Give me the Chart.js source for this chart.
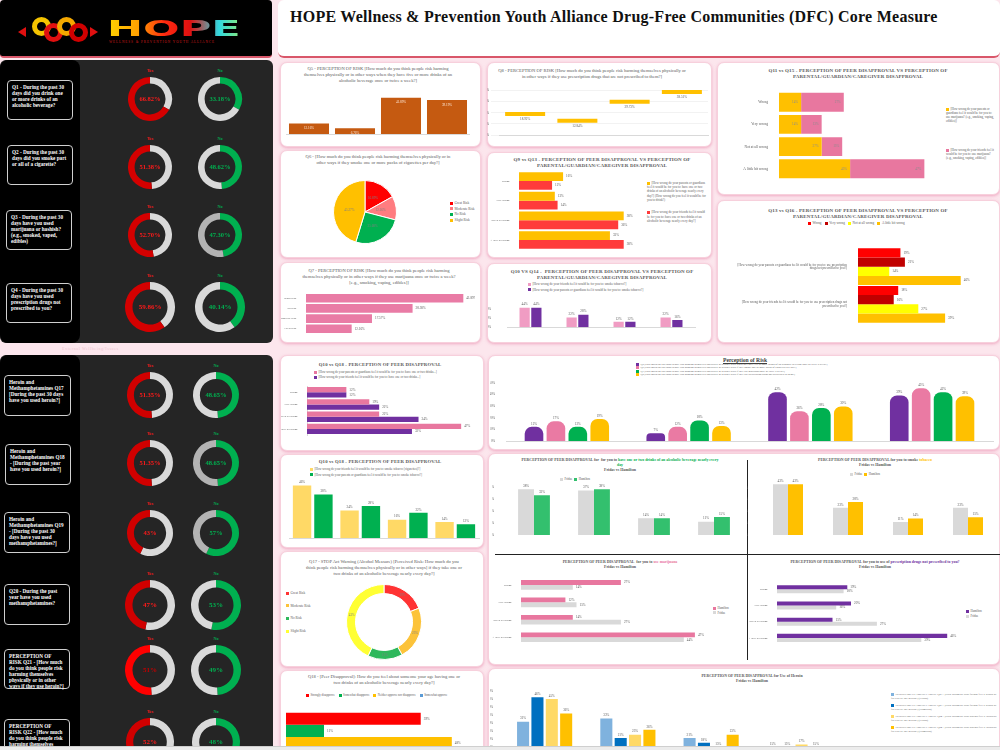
<!DOCTYPE html>
<html><head><meta charset="utf-8">
<script src="https://cdn.jsdelivr.net/npm/chart.js@4.4.1/dist/chart.umd.min.js"></script>
<style>
html,body{margin:0;padding:0;}
body{width:1000px;height:750px;overflow:hidden;background:#fce6ed;font-family:'Liberation Serif',serif;}
#page{position:relative;width:1000px;height:750px;overflow:hidden;}
.card{position:absolute;background:#fff;border-radius:7px;box-shadow:0 1px 3px rgba(230,120,160,0.55);border:1px solid #f7d0dc;box-sizing:border-box;}
.qb{position:absolute;border:1.5px solid #d0d0d0;border-radius:4px;color:#fff;font-weight:bold;font-size:5.2px;line-height:6.1px;padding:3px 4px;box-sizing:border-box;background:#000;}
.sw{display:inline-block;width:3px;height:3px;margin-right:1.5px;vertical-align:middle;}
</style></head><body><div id="page"></div>
<script>
// ================= DATA =================
const riskCats = ['Great Risk','Moderate Risk','No Risk','Slight Risk'];
const wrongCats = ['A little bit wrong','Not at all wrong','Very wrong','Wrong'];
const q5Alcohol = [12.16, 6.76, 41.89, 39.19];
const q6Cigarettes = [16.89, 12.16, 25.68, 45.27];
const q7Marijuana = [12.16, 17.57, 28.38, 41.89];
const q8Prescription = [18.92, 12.84, 29.73, 38.51];
const q9Parents = [33, 38, 13, 16];
const q13Friends = [38, 36, 14, 12];
const q10Friends = [44, 22, 12, 22];
const q14Parents = [44, 28, 12, 16];
const q11Parents = [45, 27, 14, 14];
const q15Friends = [47, 13, 13, 27];
const q16Groups = ['[How wrong do your parents or guardians feel it would be for you to: use prescription drugs not prescribed to you?]','[How wrong do your friends feel it would be for you to: use prescription drugs not prescribed to you?]'];
const q16Wrong = [19, 18];
const q16VeryWrong = [21, 16];
const q16NotAtAll = [14, 27];
const q16ALittle = [46, 39];
const q10Alcohol = [47, 22, 19, 12];
const q18Alcohol = [32, 34, 22, 12];
const q10Tobacco = [46, 24, 16, 14];
const q18Tobacco = [38, 28, 22, 12];
const q17Values = [19, 23, 15, 43];
const q18Cats = ['Strongly disapprove','Somewhat disapprove','Neither approve nor disapprove','Somewhat approve'];
const q18Values = [39, 11, 48, 2];
const alcFridas = [38, 37, 14, 11], alcHamilton = [33, 38, 14, 15];
const tobFridas = [43, 23, 11, 23], tobHamilton = [43, 28, 14, 15];
const marHamilton = [47, 14, 12, 27], marFridas = [44, 27, 15, 14];
const rxHamilton = [46, 15, 20, 19], rxFridas = [39, 27, 16, 18];
const heroinFriendsF = [31, 33, 21, 15], heroinFriendsH = [46, 21, 18, 15];
const heroinParentsF = [45, 23, 15, 17], heroinParentsH = [36, 26, 23, 15];
const useYes = [66.82, 51.38, 52.70, 59.86];
const useNo = [33.18, 48.62, 47.30, 40.14];
const hmYes = [51.35, 51.35, 43, 47, 51, 52];
const hmNo = [48.65, 48.65, 57, 53, 49, 48];
const useQuestions = [
 'Q1 - During the past 30 days did you drink one or more drinks of an alcoholic beverage?',
 'Q2 - During the past 30 days did you smoke part or all of a cigarette?',
 'Q3 - During the past 30 days have you used marijuana or hashish? (e.g., smoked, vaped, edibles)',
 'Q4 - During the past 30 days have you used prescription drugs not prescribed to you?'];
const hmQuestions = [
 'Heroin and Methamphetamines Q17 [During the past 30 days have you used heroin?]',
 'Heroin and Methamphetamines Q18 - [During the past year have you used heroin?]',
 'Heroin and Methamphetamines Q19 - [During the past 30 days have you used methamphetamines?]',
 'Q20 - During the past year have you used methamphetamines?',
 'PERCEPTION OF RISK Q21 - [How much do you think people risk harming themselves physically or in other ways if they use heroin?]',
 'PERCEPTION OF RISK Q22 - [How much do you think people risk harming themselves physically or in other ways if they use methamphetamines?]'];

// ================= SETUP =================
const page = document.getElementById('page');
Chart.defaults.font.family = "'Liberation Serif', serif";
Chart.defaults.font.size = 3.6;
Chart.defaults.color = '#595959';
Chart.defaults.animation = false;
Chart.defaults.responsive = false;
Chart.defaults.devicePixelRatio = 1;
Chart.defaults.layout.autoPadding = false;
Chart.defaults.plugins.legend.display = false;
Chart.defaults.plugins.tooltip.enabled = false;

const pct2 = v => v.toFixed(2) + '%';
const pct0 = v => Math.round(v) + '%';

Chart.register({
  id: 'vl',
  afterDatasetsDraw(chart, a, o) {
    if (!o || !o.on) return;
    const ctx = chart.ctx; ctx.save();
    ctx.font = `${o.size || 3.6}px 'Liberation Serif', serif`;
    chart.data.datasets.forEach((ds, di) => {
      const meta = chart.getDatasetMeta(di);
      meta.data.forEach((el, i) => {
        const v = ds.data[i]; if (v == null) return;
        const t = (o.fmt || pct0)(v);
        ctx.fillStyle = o.color || '#595959';
        let x = el.x, y = el.y;
        switch (o.mode) {
          case 'top': ctx.textAlign='center'; ctx.textBaseline='bottom'; y -= 1.5; break;
          case 'insideTop': ctx.textAlign='center'; ctx.textBaseline='top'; y += 3; break;
          case 'right': ctx.textAlign='left'; ctx.textBaseline='middle'; x += 3; break;
          case 'insideEnd': ctx.textAlign='right'; ctx.textBaseline='middle'; x -= 3; break;
          case 'arc': { const p = el.tooltipPosition(); x = p.x; y = p.y; ctx.textAlign='center'; ctx.textBaseline='middle'; break; }
          case 'below': ctx.textAlign='center'; ctx.textBaseline='top'; y += 3.5; break;
        }
        ctx.fillText(t, x, y);
      });
    });
    ctx.restore();
  }
});
Chart.register({
  id: 'ct',
  afterDraw(chart, a, o) {
    if (!o || !o.text) return;
    const {ctx, chartArea: ca} = chart;
    ctx.save();
    ctx.font = `bold ${o.size}px 'Liberation Serif', serif`;
    ctx.fillStyle = o.color; ctx.textAlign = 'center'; ctx.textBaseline = 'middle';
    ctx.fillText(o.text, (ca.left + ca.right) / 2, (ca.top + ca.bottom) / 2 + 0.5);
    ctx.restore();
  }
});

function mk(l, t, w, h, cfg) {
  const c = document.createElement('canvas');
  c.width = w; c.height = h;
  c.style.cssText = `position:absolute;left:${l}px;top:${t}px;width:${w}px;height:${h}px;`;
  page.appendChild(c);
  return new Chart(c, cfg);
}
function D(l, t, w, h, css, html) {
  const d = document.createElement('div');
  d.style.cssText = `position:absolute;left:${l}px;top:${t}px;` + (w ? `width:${w}px;` : '') + (h ? `height:${h}px;` : '') + (css || '');
  if (html) d.innerHTML = html;
  page.appendChild(d); return d;
}
function card(l, t, w, h) { const d = D(l, t, w, h); d.className = 'card'; return d; }
function title(l, t, w, txt, size, bold, extra) {
  return D(l, t, w, 0, `text-align:center;color:#595959;font-size:${size}px;line-height:${size*1.25}px;${bold?'font-weight:bold;letter-spacing:0.15px;':''}${extra||''}`, txt);
}
function sw(c) { return `<span class="sw" style="background:${c}"></span>`; }
function wrap(s, n) { const w = s.split(' '), out = []; let cur = ''; for (const x of w) { if ((cur + ' ' + x).trim().length > n) { out.push(cur.trim()); cur = x; } else cur += ' ' + x; } if (cur.trim()) out.push(cur.trim()); return out; }
const noGrid = {display:false};
const fixW = w => s => { s.width = w; };
const fixH = h => s => { s.height = h; };
const pctTick = v => v + '%';
const smallTicks = {padding: 1.5, font: {size: 2.8}};

// ================= HEADER =================
D(0, 0, 272, 58, 'background:#000;border-radius:4px;border-bottom:2px solid #d9576a;box-sizing:border-box;');
D(18, 27, 10, 0, 'border-top:5px solid transparent;border-bottom:5px solid transparent;border-right:8px solid #e01010;width:0;height:0;');
D(32, 17, 19, 19, 'border:5px solid #f5c400;border-radius:50%;box-sizing:border-box;');
D(44, 23, 19, 19, 'border:5px solid #e01010;border-radius:50%;box-sizing:border-box;');
D(57, 17, 19, 19, 'border:5px solid #f5a800;border-radius:50%;box-sizing:border-box;');
D(69, 23, 19, 19, 'border:5px solid #d00000;border-radius:50%;box-sizing:border-box;');
D(90, 27, 0, 0, 'border-top:5px solid transparent;border-bottom:5px solid transparent;border-left:8px solid #e01010;width:0;height:0;');
D(107, 17, 70, 24, "font-family:'DejaVu Sans',sans-serif;font-weight:bold;font-size:21px;line-height:24px;transform:scaleX(2.05);transform-origin:left top;background:linear-gradient(90deg,#ffd400 0%,#ffa000 22%,#ff2a10 40%,#e01010 58%,#30d8e0 78%,#b0f050 100%);-webkit-background-clip:text;background-clip:text;color:transparent;", 'HOPE');
D(109, 40, 145, 0, 'font-size:3.4px;letter-spacing:0.9px;color:#d01818;white-space:nowrap;', 'WELLNESS &amp; PREVENTION YOUTH ALLIANCE');
D(278, 0, 722, 58, 'background:#fff;border-radius:6px;border-bottom:2px solid #d9576a;box-sizing:border-box;');
D(290, 8, 700, 0, "font-weight:bold;font-size:16px;letter-spacing:0.25px;color:#111;white-space:nowrap;", 'HOPE Wellness &amp; Prevention Youth Alliance Drug-Free Communities (DFC) Core Measure');

// ================= LEFT PANELS =================
function panel(top, h) {
  D(0, top, 273, h, 'background:#252525;border-radius:6px;');
  D(0, top, 80, h, 'background:#000;border-radius:8px;');
}
panel(60, 283);
panel(355, 420);
D(62, 346, 80, 0, 'font-size:4px;color:#eec3cf;letter-spacing:0.6px;white-space:nowrap;', 'External Wellbeing/Issues');

function donut(cx, cy, r, first, second, c1, c2, text, tcolor, topLabel, lcolor) {
  mk(cx - r - 1, cy - r - 1, 2 * r + 2, 2 * r + 2, {
    type: 'doughnut',
    data: {labels: ['a','b'], datasets: [{data: [first, second], backgroundColor: [c1, c2], borderWidth: 0}]},
    options: {cutout: '70%', layout: {padding: 1}, plugins: {ct: {text: text, color: tcolor, size: r > 23 ? 7 : 6.5}}}
  });
  D(cx - 15, cy - r - 9, 30, 0, `text-align:center;font-size:4.2px;font-weight:bold;color:${lcolor};`, topLabel);
}
const fmtD = v => Number.isInteger(v) ? v + '%' : v.toFixed(2) + '%';
const useRows = [{y:99, r:22, box:[7,80,66,40]}, {y:167, r:22, box:[7,145,66,40]}, {y:235, r:22, box:[6,210,66,40]}, {y:307, r:25, box:[6,283,66,40]}];
useRows.forEach((row, i) => {
  const b = row.box;
  D(b[0], b[1], b[2], b[3], '', useQuestions[i]).className = 'qb';
  donut(150, row.y, row.r, useNo[i], useYes[i], '#d9d9d9', '#d40000', fmtD(useYes[i]), '#ff1a1a', 'Yes', '#ff1a1a');
  donut(220, row.y, row.r, useNo[i], useYes[i], '#00b050', i === 2 ? '#b3b3b3' : '#d9d9d9', fmtD(useNo[i]), '#00b050', 'No', '#00b050');
});
const hmRows = [{y:395, r:23, box:[4,375,67,41]}, {y:463, r:23, box:[5,444,66,41]}, {y:533, r:23, box:[4,512,66,41]}, {y:605, r:25, box:[4,584,66,41]}, {y:670, r:25, box:[4,649,66,40]}, {y:742, r:24, box:[4,719,66,45]}];
hmRows.forEach((row, i) => {
  const b = row.box;
  D(b[0], b[1], b[2], b[3], '', hmQuestions[i]).className = 'qb';
  donut(150, row.y, row.r, hmNo[i], hmYes[i], '#d9d9d9', i === 4 ? '#ff0000' : '#d00000', fmtD(hmYes[i]), i === 4 ? '#c00000' : '#ff1a1a', 'Yes', '#ff1a1a');
  donut(216, row.y, row.r, hmNo[i], hmYes[i], '#00b050', (i === 1 || i === 2) ? '#b3b3b3' : '#d9d9d9', fmtD(hmNo[i]), '#00b050', 'No', '#00b050');
});

// ================= CARDS =================
card(280, 62, 201, 85);
card(280, 150, 201, 108);
card(280, 262, 201, 81);
card(487, 62, 225, 85);
card(487, 152, 225, 106);
card(487, 263, 225, 80);
card(717, 62, 283, 133);
card(717, 200, 283, 143);
card(280, 355, 204, 96);
card(280, 454, 204, 94);
card(280, 551, 204, 116);
card(280, 670, 204, 100);
card(488, 355, 512, 95);
card(488, 453, 512, 212);
card(488, 668, 512, 100);

// ---- Q5 ----
title(298, 66, 160, 'Q5 - PERCEPTION OF RISK [How much do you think people risk harming themselves physically or in other ways when they have five or more drinks of an alcoholic beverage once or twice a week?]', 4.6);
mk(286, 95, 184, 47, {type: 'bar',
  data: {labels: riskCats, datasets: [{data: q5Alcohol, backgroundColor: '#c55a11', categoryPercentage: 0.87, barPercentage: 1}]},
  options: {scales: {x: {grid: noGrid, border: {color: '#d9d9d9'}, ticks: {padding: 2}, afterFit: fixH(8)}, y: {display: false, min: 0, max: 45}},
    plugins: {vl: {on: true, mode: 'insideTop', color: '#fde9d9', size: 3.3, fmt: pct2}}}});

// ---- Q6 ----
title(302, 154, 152, 'Q6 - [How much do you think people risk harming themselves physically or in other ways if they smoke one or more packs of cigarettes per day?]', 4.6);
mk(331, 178, 68, 68, {type: 'pie',
  data: {labels: riskCats, datasets: [{data: q6Cigarettes, backgroundColor: ['#ff0000','#ff7c80','#00b050','#ffc000'], borderColor: '#fff', borderWidth: 1}]},
  options: {layout: {padding: 2}, plugins: {vl: {on: true, mode: 'arc', color: '#7f7f7f', size: 3.3, fmt: pct2}}}});
D(450, 201, 30, 0, 'font-size:3.4px;line-height:5.6px;color:#595959;white-space:nowrap;',
  riskCats.map((c, i) => sw(['#ff0000','#ff7c80','#00b050','#ffc000'][i]) + c).join('<br>'));

// ---- Q7 ----
title(298, 268, 162, 'Q7 - PERCEPTION OF RISK [How much do you think people risk harming themselves physically or in other ways if they use marijuana once or twice a week? [e.g., smoking, vaping, edibles]]', 4.6);
mk(281, 290, 194, 47, {type: 'bar',
  data: {labels: riskCats, datasets: [{data: q7Marijuana, backgroundColor: '#e97ba5', categoryPercentage: 1, barPercentage: 0.85}]},
  options: {indexAxis: 'y', scales: {x: {display: false, min: 0, max: 45}, y: {reverse: true, grid: noGrid, border: {display: false}, ticks: smallTicks, afterFit: fixW(25)}},
    plugins: {vl: {on: true, mode: 'right', fmt: pct2, size: 3.3}}}});

// ---- Q8 ----
title(497, 68, 190, 'Q8 - PERCEPTION OF RISK [How much do you think people risk harming themselves physically or in other ways if they use prescription drugs that are not prescribed to them?]', 4.6);
mk(487, 81, 223, 63, {type: 'line',
  data: {labels: riskCats, datasets: [{data: q8Prescription, showLine: false, pointStyle: 'line', pointRadius: 20, pointBorderWidth: 4, borderColor: '#ffc000', backgroundColor: '#ffc000'}]},
  options: {layout: {padding: {top: 2, right: 2}}, clip: false, scales: {x: {offset: true, grid: noGrid, border: {color: '#d9d9d9'}, ticks: {padding: 3}, afterFit: fixH(9)},
    y: {min: 0, max: 45, ticks: {stepSize: 5, callback: pctTick, padding: 2, font: {size: 3.1}}, grid: {color: '#f2f2f2'}, border: {display: false}, afterFit: fixW(12)}},
    plugins: {vl: {on: true, mode: 'below', fmt: pct2, size: 3.3}}}});

// ---- Q9 vs Q13 ----
title(507, 157, 190, 'Q9 vs Q13 - PERCEPTION OF PEER DISAPPROVAL VS PERCEPTION OF PARENTAL/GUARDIAN/CAREGIVER DISAPPROVAL', 5, true);
mk(489, 168, 154, 85, {type: 'bar',
  data: {labels: wrongCats, datasets: [{data: q9Parents, backgroundColor: '#ffc000'}, {data: q13Friends, backgroundColor: '#ff3b3b'}]},
  options: {indexAxis: 'y', datasets: {bar: {categoryPercentage: 0.9, barPercentage: 1}},
    scales: {x: {display: false, min: 0, max: 45}, y: {reverse: true, grid: noGrid, border: {display: false}, ticks: smallTicks, afterFit: fixW(30)}},
    plugins: {vl: {on: true, mode: 'right', size: 3.3}}}});
D(647, 181, 60, 0, 'font-size:3.2px;line-height:4.2px;color:#595959;',
  sw('#ffc000') + '[How wrong do your parents or guardians feel it would be for you to: have one or two drinks of an alcoholic beverage nearly every day?] (How wrong do you feel it would be for you to drink?)<br><br><br>' +
  sw('#ff3b3b') + '[How wrong do your friends feel it would be for you to: have one or two drinks of an alcoholic beverage nearly every day?]');

// ---- Q10 vs Q14 ----
title(507, 269, 190, 'Q10 VS Q14 -&nbsp; PERCEPTION OF PEER DISAPPROVAL VS PERCEPTION OF PARENTAL/GUARDIAN/CAREGIVER DISAPPROVAL', 5, true);
D(528, 282, 150, 0, 'font-size:3.2px;line-height:5.5px;color:#595959;white-space:nowrap;',
  sw('#f09cc3') + '[How wrong do your friends feel it would be for you to: smoke tobacco?]<br>' + sw('#7030a0') + '[How wrong do your parents or guardians feel it would be for you to: smoke tobacco?]');
mk(488, 293, 210, 44, {type: 'bar',
  data: {labels: wrongCats, datasets: [{data: q10Friends, backgroundColor: '#f09cc3'}, {data: q14Parents, backgroundColor: '#7030a0'}]},
  options: {layout: {padding: {top: 2, right: 3}}, datasets: {bar: {categoryPercentage: 0.5, barPercentage: 0.87}},
    scales: {x: {grid: noGrid, border: {color: '#d9d9d9'}, ticks: {padding: 2}, afterFit: fixH(8)},
      y: {min: 0, max: 55, grid: noGrid, border: {display: false}, ticks: {stepSize: 10, padding: 8, font: {size: 3.1}, callback: v => v % 10 === 0 ? v + '%' : ''}, afterFit: fixW(19)}},
    plugins: {vl: {on: true, mode: 'top', size: 3.3}}}});

// ---- Q11 vs Q15 ----
title(768, 68, 180, 'Q11 vs Q15 - PERCEPTION OF PEER DISAPPROVAL VS PERCEPTION OF PARENTAL/GUARDIAN/CAREGIVER DISAPPROVAL', 5, true);
mk(722, 86, 215, 99, {type: 'bar',
  data: {labels: wrongCats, datasets: [{data: q11Parents, backgroundColor: '#ffc000'}, {data: q15Friends, backgroundColor: '#e8779f'}]},
  options: {indexAxis: 'y', datasets: {bar: {categoryPercentage: 1, barPercentage: 0.85}},
    scales: {x: {display: false, stacked: true, min: 0, max: 100}, y: {stacked: true, reverse: true, grid: noGrid, border: {display: false}, ticks: {padding: 3}, afterFit: fixW(57)}},
    plugins: {vl: {on: true, mode: 'insideEnd', size: 3.3, color: '#8c8c8c'}}}});
D(946, 107, 50, 0, 'font-size:3.1px;line-height:4.1px;color:#595959;',
  sw('#ffc000') + '[How wrong do your parents or guardians feel it would be for you to: use marijuana? (e.g., smoking, vaping, edibles)]<br><br><br><br><br><br><br>' +
  sw('#e8779f') + '[How wrong do your friends feel it would be for you to: use marijuana? (e.g., smoking, vaping, edibles)]');

// ---- Q13 vs Q16 ----
title(768, 208, 180, 'Q13 vs Q16 - PERCEPTION OF PEER DISAPPROVAL VS PERCEPTION OF PARENTAL/GUARDIAN/CAREGIVER DISAPPROVAL', 5, true);
D(808, 221, 120, 0, 'font-size:3.3px;color:#595959;white-space:nowrap;',
  [['#ff0000','Wrong'],['#c00000','Very wrong'],['#ffff00','Not at all wrong'],['#ffc000','A little bit wrong']].map(a => sw(a[0]) + a[1]).join('&nbsp;&nbsp;&nbsp;&nbsp;'));
mk(722, 241, 270, 89, {type: 'bar',
  data: {labels: q16Groups, datasets: [
    {data: q16Wrong, backgroundColor: '#ff0000'}, {data: q16VeryWrong, backgroundColor: '#c00000'},
    {data: q16NotAtAll, backgroundColor: '#ffff00'}, {data: q16ALittle, backgroundColor: '#ffc000'}]},
  options: {indexAxis: 'y', datasets: {bar: {categoryPercentage: 0.98, barPercentage: 1}},
    scales: {x: {display: false, min: 0, max: 60}, y: {grid: noGrid, border: {display: false}, ticks: {padding: 3, font: {size: 3.2}, callback: function(v) { return wrap(this.getLabelForValue(v), 86); }}, afterFit: fixW(136)}},
    plugins: {vl: {on: true, mode: 'right', size: 3.3}}}});

// ---- Q10 vs Q18 (alcohol, horizontal) ----
title(300, 362, 160, 'Q10 vs Q18 - PERCEPTION OF PEER DISAPPROVAL', 4.8, true);
D(314, 370, 150, 0, 'font-size:3.1px;line-height:5px;color:#595959;white-space:nowrap;',
  sw('#e8779f') + '[How wrong do your parents or guardians feel it would be for you to: have one or two drinks...]<br>' + sw('#7030a0') + '[How wrong do your friends feel it would be for you to: have one or two drinks...]');
mk(281, 383, 196, 61, {type: 'bar',
  data: {labels: wrongCats, datasets: [{data: q10Alcohol, backgroundColor: '#e8779f'}, {data: q18Alcohol, backgroundColor: '#7030a0'}]},
  options: {layout: {padding: {right: 6}}, indexAxis: 'y', datasets: {bar: {categoryPercentage: 0.85, barPercentage: 1}},
    scales: {x: {min: 0, max: 50, ticks: {stepSize: 5, callback: pctTick, padding: 2, font: {size: 3.1}}, grid: noGrid, border: {display: false}, afterFit: fixH(9)},
      y: {reverse: true, grid: noGrid, border: {color: '#d9d9d9'}, ticks: smallTicks, afterFit: fixW(26)}},
    plugins: {vl: {on: true, mode: 'right', size: 3.3}}}});

// ---- Q10 vs Q18 (tobacco, columns) ----
title(300, 459, 160, 'Q10 vs Q18 - PERCEPTION OF PEER DISAPPROVAL', 4.8, true);
D(310, 467, 160, 0, 'font-size:3.1px;line-height:5.5px;color:#595959;white-space:nowrap;',
  sw('#ffd966') + '[How wrong do your friends feel it would be for you to: smoke tobacco (cigarettes)?]<br>' + sw('#00b050') + '[How wrong do your parents or guardians feel it would be for you to: smoke tobacco?]');
mk(281, 478, 200, 68, {type: 'bar',
  data: {labels: wrongCats, datasets: [{data: q10Tobacco, backgroundColor: '#ffd966'}, {data: q18Tobacco, backgroundColor: '#00b050'}]},
  options: {layout: {padding: {top: 2, right: 2}}, datasets: {bar: {categoryPercentage: 0.9, barPercentage: 0.86}},
    scales: {x: {grid: noGrid, border: {color: '#d9d9d9'}, ticks: {padding: 2}, afterFit: fixH(8)},
      y: {min: 0, max: 50, grid: noGrid, border: {display: false}, ticks: {stepSize: 5, callback: pctTick, padding: 1, font: {size: 3}}, afterFit: fixW(8)}},
    plugins: {vl: {on: true, mode: 'top', size: 3.3}}}});

// ---- Q17 ----
title(304, 559, 160, 'Q17 - STOP Act Warning (Alcohol Measure) [Perceived Risk: How much do you think people risk harming themselves physically or in other ways] if they take one or two drinks of an alcoholic beverage nearly every day?]', 4.6);
const q17Colors = ['#ff3333','#fcc33a','#2eb85c','#ffff33'];
mk(344, 582, 80, 80, {type: 'doughnut',
  data: {labels: riskCats, datasets: [{data: q17Values, backgroundColor: q17Colors, borderColor: '#fff', borderWidth: 1}]},
  options: {cutout: '76%', layout: {padding: 2}, plugins: {vl: {on: true, mode: 'arc', size: 3.3, color: '#7f7f7f'}}}});
D(286, 587, 40, 0, 'font-size:3.4px;line-height:12.6px;color:#595959;white-space:nowrap;',
  riskCats.map((c, i) => sw(q17Colors[i]) + c).join('<br>'));

// ---- Q18 ----
title(304, 674, 160, 'Q18 - [Peer Disapproval]: How do you feel about someone your age having one or two drinks of an alcoholic beverage nearly every day?]', 4.6);
const q18Colors = ['#ff0000','#00b050','#ffc000','#5b9bd5'];
D(306, 693, 170, 0, 'font-size:3px;color:#595959;white-space:nowrap;',
  q18Cats.map((c, i) => sw(q18Colors[i]) + c).join('&nbsp;&nbsp;&nbsp;&nbsp;&nbsp;'));
mk(286, 710, 190, 54, {type: 'bar',
  data: {labels: ['Q18'], datasets: q18Values.map((v, i) => ({data: [v], backgroundColor: q18Colors[i]}))},
  options: {indexAxis: 'y', datasets: {bar: {categoryPercentage: 0.9, barPercentage: 1}},
    scales: {x: {display: false, min: 0, max: 55}, y: {display: false}},
    plugins: {vl: {on: true, mode: 'right', size: 3.3}}}});

// ---- Perception of Risk ----
D(695, 357, 100, 0, 'text-align:center;font-weight:bold;text-decoration:underline;font-size:5.6px;color:#404040;', 'Perception of Risk');
D(636, 363, 210, 0, 'font-size:2.7px;line-height:3.3px;color:#595959;white-space:nowrap;',
  sw('#7030a0') + 'Q5 [How much do you think people risk harming themselves physically or in other ways when they have five or more drinks of an alcoholic beverage once or twice a week?]<br>' +
  sw('#ea7aa3') + 'Q6 [How much do you think people risk harming themselves physically or in other ways if they smoke one or more packs of cigarettes per day?]<br>' +
  sw('#00b050') + 'Q7 [How much do you think people risk harming themselves physically or in other ways if they use marijuana once or twice a week?]<br>' +
  sw('#ffc000') + 'Q8 [How much do you think people risk harming themselves physically or in other ways if they use prescription drugs not prescribed to them?]');
mk(490, 378, 506, 71, {type: 'bar',
  data: {labels: riskCats, datasets: [
    {data: q5Alcohol, backgroundColor: '#7030a0'}, {data: q6Cigarettes, backgroundColor: '#ea7aa3'},
    {data: q7Marijuana, backgroundColor: '#00b050'}, {data: q8Prescription, backgroundColor: '#ffc000'}]},
  options: {layout: {padding: {top: 3, right: 3}}, datasets: {bar: {categoryPercentage: 0.72, barPercentage: 0.85, borderRadius: {topLeft: 7, topRight: 7}, borderSkipped: 'bottom'}},
    scales: {x: {grid: noGrid, border: {color: '#d9d9d9'}, ticks: {padding: 2}, afterFit: fixH(8)},
      y: {min: 0, max: 50, grid: noGrid, border: {display: false}, ticks: {stepSize: 5, callback: pctTick, padding: 3, font: {size: 3.1}}, afterFit: fixW(16)}},
    plugins: {vl: {on: true, mode: 'top', size: 3.3}}}});

// ---- Quadrants ----
D(747, 460, 0, 200, 'border-left:1.5px solid #222;');
D(495, 554, 505, 0, 'border-top:1.5px solid #222;');
const qt = 'font-weight:bold;font-size:3.9px;line-height:4.9px;color:#595959;text-align:center;';
D(520, 458, 200, 0, qt, 'PERCEPTION OF PEER DISAPPROVAL for&nbsp; for you to <span style="color:#00b050">have one or two drinks of an alcoholic beverage nearly every day</span><br>Fridas vs Hamilton');
D(560, 477, 100, 0, 'font-size:3px;color:#595959;white-space:nowrap;', sw('#d9d9d9') + 'Fridas&nbsp;&nbsp;&nbsp;' + sw('#33c06e') + 'Hamilton');
mk(492, 483, 254, 60, {type: 'bar',
  data: {labels: wrongCats, datasets: [{data: alcFridas, backgroundColor: '#d9d9d9'}, {data: alcHamilton, backgroundColor: '#33c06e'}]},
  options: {layout: {padding: {top: 2, right: 2}}, datasets: {bar: {categoryPercentage: 0.53, barPercentage: 1}},
    scales: {x: {grid: noGrid, border: {display: false}, ticks: {padding: 2}, afterFit: fixH(8)},
      y: {min: 0, max: 40, grid: noGrid, border: {display: false}, ticks: {stepSize: 5, callback: pctTick, padding: 2, font: {size: 3.1}}, afterFit: fixW(12)}},
    plugins: {vl: {on: true, mode: 'top', size: 3.3}}}});

D(775, 458, 200, 0, qt, 'PERCEPTION OF PEER DISAPPROVAL for you to smoke <span style="color:#ffc000">tobacco</span><br>Fridas vs Hamilton');
D(850, 472, 100, 0, 'font-size:3px;color:#595959;white-space:nowrap;', sw('#d9d9d9') + 'Fridas&nbsp;&nbsp;&nbsp;' + sw('#ffc000') + 'Hamilton');
mk(747, 478, 252, 65, {type: 'bar',
  data: {labels: wrongCats, datasets: [{data: tobFridas, backgroundColor: '#d9d9d9'}, {data: tobHamilton, backgroundColor: '#ffc000'}]},
  options: {layout: {padding: {top: 2, right: 1}}, datasets: {bar: {categoryPercentage: 0.5, barPercentage: 1}},
    scales: {x: {grid: noGrid, border: {display: false}, ticks: {padding: 2}, afterFit: fixH(8)},
      y: {min: 0, max: 45, grid: noGrid, border: {display: false}, ticks: {stepSize: 5, callback: pctTick, padding: 2, font: {size: 3.1}}, afterFit: fixW(11)}},
    plugins: {vl: {on: true, mode: 'top', size: 3.3}}}});

D(520, 560, 200, 0, qt, 'PERCEPTION OF PEER DISAPPROVAL&nbsp; for you to <span style="color:#e8779f">use marijuana</span><br>Fridas vs Hamilton');
D(713, 606, 40, 0, 'font-size:3px;line-height:4.5px;color:#595959;white-space:nowrap;', sw('#e8779f') + 'Hamilton<br>' + sw('#d9d9d9') + 'Fridas');
mk(490, 573, 221, 81, {type: 'bar',
  data: {labels: wrongCats, datasets: [{data: marHamilton, backgroundColor: '#e8779f'}, {data: marFridas, backgroundColor: '#d9d9d9'}]},
  options: {indexAxis: 'y', layout: {padding: {right: 5}}, datasets: {bar: {categoryPercentage: 0.55, barPercentage: 1}},
    scales: {x: {min: 0, max: 50, ticks: {stepSize: 5, callback: pctTick, padding: 2, font: {size: 3.1}}, grid: noGrid, border: {display: false}, afterFit: fixH(8)},
      y: {reverse: true, grid: noGrid, border: {display: false}, ticks: smallTicks, afterFit: fixW(31)}},
    plugins: {vl: {on: true, mode: 'right', size: 3.3}}}});

D(775, 560, 200, 0, qt, 'PERCEPTION OF PEER DISAPPROVAL for you to use of <span style="color:#7030a0">prescription drugs not prescribed to you?</span><br>Fridas vs Hamilton');
D(966, 609, 34, 0, 'font-size:3px;line-height:5px;color:#595959;white-space:nowrap;', sw('#7030a0') + 'Hamilton<br>' + sw('#d9d9d9') + 'Fridas');
mk(749, 578, 218, 76, {type: 'bar',
  data: {labels: wrongCats, datasets: [{data: rxHamilton, backgroundColor: '#7030a0'}, {data: rxFridas, backgroundColor: '#d9d9d9'}]},
  options: {indexAxis: 'y', layout: {padding: {right: 5}}, datasets: {bar: {categoryPercentage: 0.5, barPercentage: 1}},
    scales: {x: {min: 0, max: 50, ticks: {stepSize: 5, callback: pctTick, padding: 2, font: {size: 3.1}}, grid: noGrid, border: {display: false}, afterFit: fixH(8)},
      y: {reverse: true, grid: noGrid, border: {display: false}, ticks: smallTicks, afterFit: fixW(28)}},
    plugins: {vl: {on: true, mode: 'right', size: 3.3}}}});

// ---- Heroin ----
D(652, 674, 200, 0, 'font-weight:bold;font-size:3.9px;line-height:5px;color:#595959;text-align:center;', 'PERCEPTION OF PEER DISAPPROVAL for Use of Heroin<br>Fridas vs Hamilton');
const heroinColors = ['#7fb2de','#0070c0','#ffd966','#ffc000'];
D(891, 693, 108, 0, 'font-size:2.9px;line-height:3.6px;color:#595959;',
  sw(heroinColors[0]) + 'HEROIN/METHAMPHETAMINE Q23 - [How wrong do your friends feel it would be for you to: use heroin?] (Fridas)<br><br>' +
  sw(heroinColors[1]) + 'HEROIN/METHAMPHETAMINE Q23 - [How wrong do your friends feel it would be for you to: use heroin?] (Hamilton)<br><br>' +
  sw(heroinColors[2]) + 'HEROIN/METHAMPHETAMINE Q24 - [How wrong do your parents feel it would be for you to: use heroin?] (Fridas)<br><br>' +
  sw(heroinColors[3]) + 'HEROIN/METHAMPHETAMINE Q24 - [How wrong do your parents feel it would be for you to: use heroin?] (Hamilton)');
mk(490, 687, 348, 93, {type: 'bar',
  data: {labels: wrongCats, datasets: [heroinFriendsF, heroinFriendsH, heroinParentsF, heroinParentsH].map((d, i) => ({data: d, backgroundColor: heroinColors[i]}))},
  options: {layout: {padding: {top: 2, right: 2}}, datasets: {bar: {categoryPercentage: 0.69, barPercentage: 0.84}},
    scales: {x: {grid: noGrid, border: {display: false}, ticks: {padding: 2}, afterFit: fixH(8)},
      y: {min: 0, max: 50, grid: noGrid, border: {display: false}, ticks: {stepSize: 5, callback: pctTick, padding: 2, font: {size: 3.1}}, afterFit: fixW(13)}},
    plugins: {vl: {on: true, mode: 'top', size: 3.3}}}});

// bottom scrollbar strip
D(0, 746, 1000, 4, 'background:#ececec;border-top:1px solid #cfcfcf;box-sizing:border-box;');
</script></body></html>
